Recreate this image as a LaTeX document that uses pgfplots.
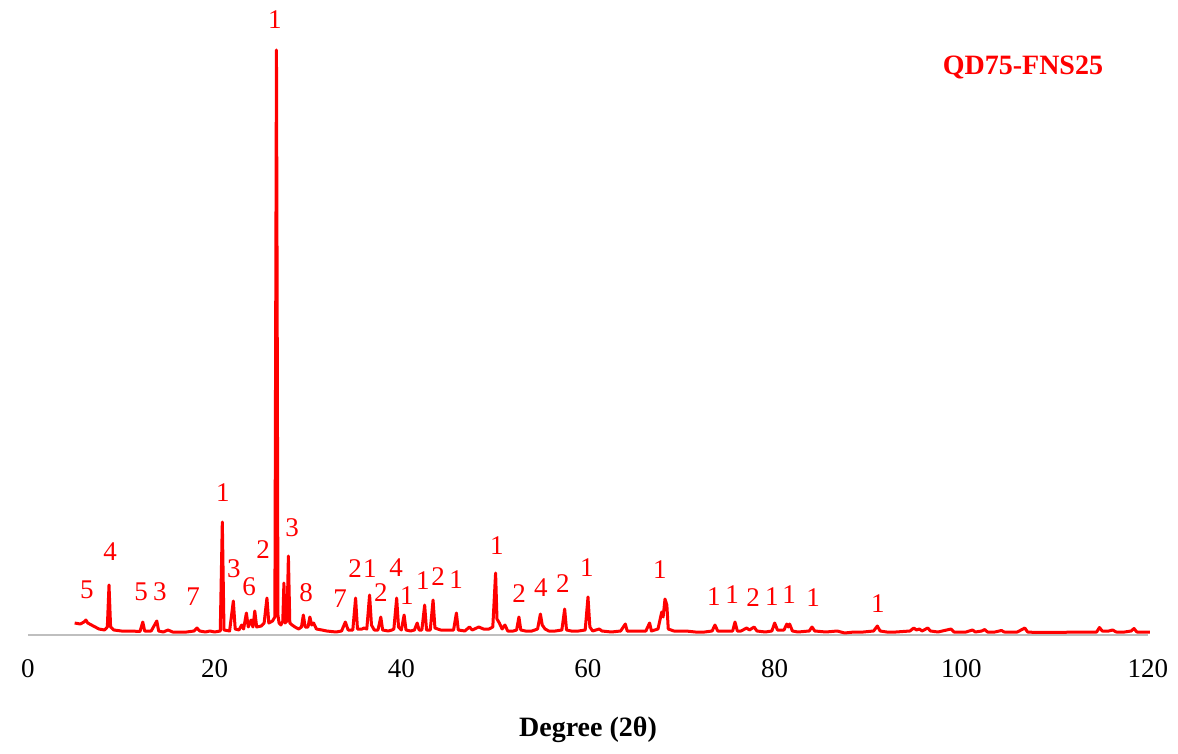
\documentclass[border=0pt]{standalone}
\usepackage{pgfplots}
\pgfplotsset{compat=1.18}
\usepackage{fontspec}
\setmainfont{Liberation Serif}
\definecolor{xrdred}{RGB}{255,0,0}
\definecolor{axgray}{RGB}{191,191,191}
\tikzset{lbl/.style={text=xrdred, font=\fontsize{27}{30}\selectfont, inner sep=0pt, anchor=center}}
\pgfplotstableread{
x y
5.0 12
5.6 11
6.0 13
6.2 15
6.4 12
7.0 9
7.6 6
8.2 5
8.5 8
8.68 50
8.85 8
9.2 5
10 4
11 4
12.0 3.5
12.3 13
12.5 4
13.2 4
13.8 14
14.0 4
14.5 3
15.0 5
15.5 3
16.5 3
17.0 3
17.8 4
18.1 7
18.4 4
19.0 3
19.5 4
20.0 3
20.6 4
20.82 113
21.0 5
21.6 4
22.0 34
22.2 6
22.6 5
22.9 10
23.1 6
23.4 22
23.6 8
23.9 15
24.1 8
24.3 24
24.5 8
25.0 9
25.3 12
25.6 37
25.8 12
26.2 14
26.45 18
26.62 585
26.70 318
26.78 20
26.9 12
27.1 10
27.3 14
27.42 52
27.55 12
27.75 14
27.9 79
28.05 12
28.3 10
28.6 8
29.0 6
29.3 8
29.5 20
29.7 8
30.0 8
30.2 18
30.4 10
30.6 12
30.9 6
31.5 5
32.0 4
33.0 3
33.6 4
34.0 13
34.3 5
34.8 5
35.1 37
35.3 6
35.8 6
36.0 7
36.3 6
36.6 40
36.8 10
37.1 5
37.5 5
37.8 18
38.0 5
38.6 4
39.0 5
39.2 6
39.5 37
39.7 8
40.0 5
40.3 20
40.5 5
41.0 4
41.4 5
41.7 12
41.9 5
42.2 5
42.5 30
42.7 5
43.1 5
43.4 35
43.6 7
44.2 5
45.0 5
45.6 5
45.9 22
46.1 5
46.8 4
47.3 8
47.6 5
48.3 8
48.8 6
49.4 6
49.8 8
50.1 62
50.25 16
50.5 12
50.8 6
51.1 10
51.4 4
52.0 4
52.35 5
52.6 18
52.8 5
53.3 4
54.0 4
54.6 6
54.9 21
55.1 10
55.4 6
55.8 4
56.5 4
57.2 5
57.5 26
57.7 5
58.2 4
59.0 4
59.7 5
60.0 38
60.2 8
60.5 4
61.2 6
61.5 4
62.5 3
63.5 4
64.0 11
64.2 4
65.0 4
66.2 4
66.6 12
66.8 4
67.5 6
67.9 23
68.05 18
68.25 36
68.45 30
68.6 6
69.2 4
70.5 4
71.5 3
72.5 3
73.3 4
73.6 10
73.9 4
74.8 4
75.5 4
75.75 13
76.0 4
76.4 4
77.0 7
77.3 5
77.8 8
78.1 4
79.0 3
79.7 4
80.0 12
80.3 5
81.0 5
81.3 11
81.45 8
81.6 11
81.9 4
82.5 3
83.7 4
84.0 8
84.3 4
85.5 3
86.7 4
87.5 2
88.5 3
89.5 3
90.6 4
91.0 9
91.3 4
92.0 3
93.0 3
94.5 4
94.9 7
95.2 5
95.5 6
95.8 4
96.4 7
96.7 4
97.5 3
98.9 6
99.2 3
100.5 3
101.2 5
101.5 3
102.2 4
102.5 5.5
102.8 3
103.6 3
104.3 4.5
104.6 3
106.0 3
106.8 7
107.1 3
108.0 2.5
114.5 3
114.8 7.5
115.1 4
115.8 4
116.2 5
116.6 3
117.5 3
118.2 4
118.5 6.5
118.8 3
119.5 3
120.2 3
}\xrd
\begin{document}
\begin{tikzpicture}
\useasboundingbox (0,0) rectangle (1178pt,753pt);
\begin{axis}[
  at={(28pt,118pt)}, anchor=south west,
  scale only axis, width=1120pt, height=625pt,
  xmin=0, xmax=120, ymin=0, ymax=625,
  axis x line=bottom, axis y line=none,
  x axis line style={-, draw=axgray, line width=1.6pt},
  xtick={0,20,...,120}, ytick=\empty,
  major tick length=0pt,
  /pgf/number format/assume math mode=true,
  xticklabel style={anchor=center, yshift=-34pt, font=\fontsize{27}{32}\selectfont},
  xlabel={\textbf{Degree (2θ)}},
  xlabel style={at={(axis description cs:0.5,0)}, anchor=center, yshift=-95pt, font=\fontsize{28}{32}\selectfont},
  clip=false,
]
\addplot[xrdred, line width=3pt, line join=round, no markers] table[x=x, y=y] {\xrd};
\node[lbl] at (6.32,45) {5};
\node[lbl] at (8.79,83) {4};
\node[lbl] at (12.11,43) {5};
\node[lbl] at (14.14,43) {3};
\node[lbl] at (17.68,38) {7};
\node[lbl] at (20.89,142) {1};
\node[lbl] at (22.07,66) {3};
\node[lbl] at (23.68,48) {6};
\node[lbl] at (25.18,85) {2};
\node[lbl] at (26.46,615) {1};
\node[lbl] at (28.29,107) {3};
\node[lbl] at (29.79,42) {8};
\node[lbl] at (33.43,36) {7};
\node[lbl] at (35.04,66) {2};
\node[lbl] at (36.64,66) {1};
\node[lbl] at (37.82,42) {2};
\node[lbl] at (39.43,67) {4};
\node[lbl] at (40.6,39) {1};
\node[lbl] at (42.32,54) {1};
\node[lbl] at (43.93,58) {2};
\node[lbl] at (45.86,55) {1};
\node[lbl] at (50.25,89) {1};
\node[lbl] at (52.61,41) {2};
\node[lbl] at (54.96,47) {4};
\node[lbl] at (57.32,51) {2};
\node[lbl] at (59.89,67) {1};
\node[lbl] at (67.71,65) {1};
\node[lbl] at (73.5,38) {1};
\node[lbl] at (75.43,40) {1};
\node[lbl] at (77.68,37) {2};
\node[lbl] at (79.71,38) {1};
\node[lbl] at (81.54,40) {1};
\node[lbl] at (84.11,37) {1};
\node[lbl] at (91.07,31) {1};
\node[text=xrdred, font=\fontsize{28}{32}\selectfont\bfseries, anchor=center] at (106.6,567) {QD75-FNS25};
\end{axis}
\end{tikzpicture}
\end{document}
